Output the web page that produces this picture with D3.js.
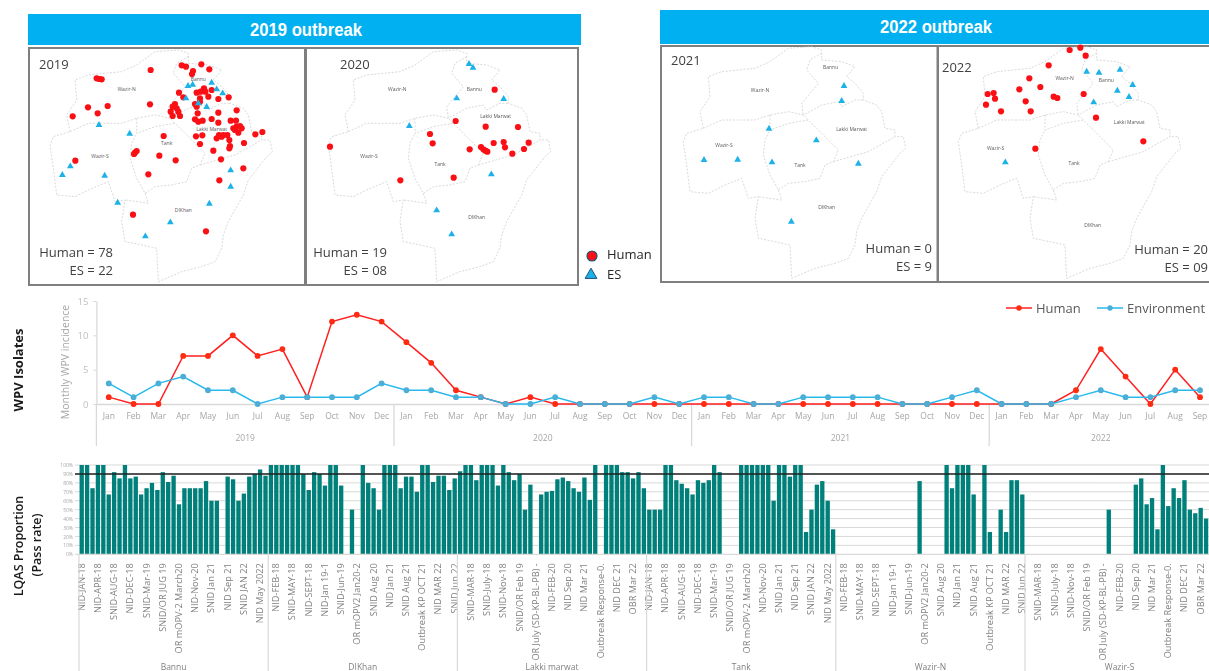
<!DOCTYPE html>
<html>
<head>
<meta charset="utf-8">
<title>WPV outbreak</title>
<script src="https://cdn.jsdelivr.net/npm/d3@7"></script>
<style>
  html, body { margin: 0; padding: 0; background: #fff; }
  /* the source picture is a soft, scaled screenshot */
  svg { display: block; font-family: 'Open Sans', sans-serif; filter: blur(0.45px); }
</style>
</head>
<body>
<svg id="chart" width="1209" height="671"></svg>
<script>
// map points are in map units
const human2019 = [[485,166],[498,170],[544,163],[568,178],[519,183],[516,192],[392,180],[230,205],[238,207],[245,208],[477,248],[490,262],[530,248],[542,245],[552,235],[556,245],[575,240],[565,260],[540,265],[540,275],[595,267],[626,262],[263,288],[204,292],[233,310],[158,319],[390,283],[465,282],[458,290],[470,295],[452,305],[475,305],[458,318],[480,318],[525,282],[530,290],[533,310],[650,301],[595,308],[525,328],[535,335],[548,332],[575,327],[595,338],[632,332],[648,332],[650,350],[660,348],[665,355],[645,360],[655,368],[640,355],[706,373],[727,366],[528,379],[547,376],[431,378],[597,375],[610,375],[622,375],[590,385],[605,380],[628,390],[540,402],[672,399],[630,408],[628,415],[580,422],[345,428],[350,423],[342,432],[418,437],[467,451],[166,452],[603,448],[385,493],[670,475],[598,511],[339,614],[558,664]];
const es2019 = [[237,345],[329,371],[151,469],[127,495],[254,497],[293,578],[451,637],[376,679],[568,581],[632,530],[632,481],[560,291],[498,265],[535,280],[608,250],[590,238],[575,218],[518,224],[504,228]];
const human2020 = [[584,239],[467,333],[557,350],[654,351],[390,372],[398,400],[90,410],[509,418],[543,411],[550,418],[556,422],[562,425],[581,399],[611,396],[615,412],[637,431],[672,417],[686,398],[461,503],[301,511]];
const es2020 = [[507,162],[519,173],[470,265],[611,267],[328,348],[574,493],[410,601],[455,673]];
const human2021 = [];
const es2021 = [[567,243],[560,288],[342,371],[484,406],[147,465],[248,464],[351,472],[610,476],[409,650]];
const human2022 = [[419,135],[451,128],[467,152],[356,181],[298,220],[331,246],[268,253],[173,267],[191,264],[195,281],[168,299],[213,319],[287,289],[302,319],[371,275],[382,279],[461,267],[498,338],[640,409],[316,431]];
const es2022 = [[470,200],[507,203],[570,194],[608,240],[562,257],[597,276],[491,292],[226,472]];

const districtNames = ['Bannu', 'Wazir-N', 'Wazir-S', 'Tank', 'Lakki Marwat', 'DIKhan'];
const districtAt2019 = [[535,208],[320,238],[240,439],[440,400],[575,356],[490,600]];
const districtAt2020 = [[523,238],[292,238],[207,439],[420,463],[587,317],[530,620]];
const districtAt2021 = [[527,186],[315,254],[207,420],[435,479],[590,371],[515,606]];
const districtAt2022 = [[529,225],[404,219],[197,430],[432,473],[598,351],[488,660]];

// district borders, same map units
const borderOuter = [[145,370],[135,320],[165,275],[160,215],[200,200],[300,190],[345,170],[400,130],[470,125],[500,135],[500,165],[560,170],[600,185],[575,215],[600,235],[625,265],[625,285],[665,300],[680,320],[690,370],[720,375],[720,395],[745,395],[752,430],[735,445],[700,490],[680,515],[665,560],[620,640],[605,680],[600,720],[580,760],[540,775],[480,790],[410,820],[405,720],[360,710],[310,700],[300,640],[310,575],[280,580],[260,520],[210,540],[160,565],[105,560],[95,480],[85,410],[95,385],[145,370]];
const borderInner = [
  [[145,370],[200,345],[300,345],[345,330],[400,320],[445,330],[500,300],[550,290],[560,305],[600,285],[625,285]],
  [[500,145],[465,165],[455,195],[490,235],[440,295],[445,330],[460,345]],
  [[345,330],[345,375],[400,355],[460,345],[510,395],[550,435],[535,470],[510,480],[495,520],[450,530],[400,535],[370,555],[345,510],[325,450],[330,405],[345,375]],
  [[535,470],[640,440],[720,395]],
  [[370,555],[380,585],[310,575]]
];

const months = ['Jan','Feb','Mar','Apr','May','Jun','Jul','Aug','Sep','Oct','Nov','Dec','Jan','Feb','Mar','Apr','May','Jun','Jul','Aug','Sep','Oct','Nov','Dec','Jan','Feb','Mar','Apr','May','Jun','Jul','Aug','Sep','Oct','Nov','Dec','Jan','Feb','Mar','Apr','May','Jun','Jul','Aug','Sep'];
const years = ['2019', '2020', '2021', '2022'];
const monthsPerYear = [12, 12, 12, 9];
const humanCases = [1,0,0,7,7,10,7,8,1,12,13,12,9,6,2,1,0,1,0,0,0,0,0,0,0,0,0,0,0,0,0,0,0,0,0,0,0,0,0,2,8,4,0,5,1];
const envCases = [3,1,3,4,2,2,0,1,1,1,1,3,2,2,1,1,0,0,1,0,0,0,1,0,1,1,0,0,1,1,1,1,0,0,1,2,0,0,0,1,2,1,1,2,2];

const rounds = ['NID-JAN-18','NID-FEB-18','SNID-MAR-18','NID-APR-18','SNID-MAY-18','SNID-July-18','SNID-AUG-18','NID-SEPT-18','SNID-Nov-18','NID-DEC-18','NID-Jan 19-1','SNID/OR Feb 19','SNID-Mar-19','SNID-Jun-19','OR July (SD-KP-BL-PB) -','SNID/OR JUG 19','OR mOPV2 Jan20-2','NID-FEB-20','OR mOPV-2 March20','SNID Aug 20','NID Sep 20','NID-Nov-20','NID Jan 21','NID Mar 21','SNID Jan 21','SNID Aug 21','Outbreak Response-0.','NID Sep 21','Outbreak KP OCT 21','NID DEC 21','SNID JAN 22','NID MAR 22','OBR Mar 22','NID May 2022','SNID Jun 22'];
const districts = ['Bannu', 'DIKhan', 'Lakki marwat', 'Tank', 'Wazir-N', 'Wazir-S'];
const passBannu = [100,100,74,100,100,67,92,85,100,85,87,67,74,80,72,92,81,88,56,74,74,74,74,82,60,60,0,87,84,60,68,87,90,95,88];
const passDikhan = [100,100,100,100,100,100,90,72,92,90,77,100,100,77,0,50,0,100,80,74,50,100,100,100,74,87,87,70,100,100,81,88,88,72,85];
const passLakki = [93,100,100,83,100,100,100,77,100,92,83,90,50,78,0,67,70,71,84,86,82,74,70,86,61,100,0,100,100,100,92,92,85,92,74];
const passTank = [50,50,50,100,100,83,79,74,67,83,80,83,100,92,0,0,0,100,100,100,100,100,100,60,100,100,87,100,100,25,50,78,82,60,28];
const passWazirN = [0,0,0,0,0,0,0,0,0,0,0,0,0,0,0,82,0,0,0,0,100,74,100,100,100,67,0,100,25,0,50,25,83,83,67];
const passWazirS = [0,0,0,0,0,0,0,0,0,0,0,0,0,0,0,50,0,0,0,0,78,85,56,63,28,100,54,74,63,83,50,46,52,40,44];
const passByDistrict = [passBannu, passDikhan, passLakki, passTank, passWazirN, passWazirS];
const targetPass = 90;

const svg = d3.select('#chart');
const C_HEAD = '#00b0f0', C_FRAME = '#7f7f7f', C_AXIS = '#d9d9d9', C_TEXT = '#a6a6a6';

// ---- outbreak headers
[
  { label: '2019 outbreak', x: 28, y: 14, w: 553, h: 31, tx: 306 },
  { label: '2022 outbreak', x: 660, y: 10, w: 549, h: 34, tx: 936 }
].forEach(h => {
  svg.append('rect').attr('x', h.x).attr('y', h.y).attr('width', h.w).attr('height', h.h).attr('fill', C_HEAD);
  svg.append('text').attr('x', h.tx).attr('y', h.y + h.h / 2 + 6)
    .attr('text-anchor', 'middle').attr('fill', '#fff')
    .attr('textLength', 112).attr('lengthAdjust', 'spacingAndGlyphs')
    .style('font-family', "'Liberation Sans', sans-serif")
    .style('font-weight', 700).style('font-size', '18px')
    .text(h.label);
});

// ---- map panels
const panels = [
  { year: years[0], human: human2019, es: es2019, names: districtAt2019, fx: 29, fy: 48, fw: 276, fh: 237, bx: 21.7, by: 8.3, px: 20, py: 10, yrX: 39, yrY: 69, cntX: 113, cntY: 257, cnt: ['Human = 78', 'ES = 22'] },
  { year: years[1], human: human2020, es: es2020, names: districtAt2020, fx: 306, fy: 48, fw: 272, fh: 237, bx: 300, by: 8.3, px: 300, py: 10, yrX: 340, yrY: 69, cntX: 387, cntY: 257, cnt: ['Human = 19', 'ES = 08'] },
  { year: years[2], human: human2021, es: es2021, names: districtAt2021, fx: 661, fy: 46, fw: 276.5, fh: 236, bx: 655, by: 5, px: 655, py: 5, yrX: 671, yrY: 65, cntX: 932, cntY: 253, cnt: ['Human = 0', 'ES = 9'] },
  { year: years[3], human: human2022, es: es2022, names: districtAt2022, fx: 938, fy: 46, fw: 290, fh: 236, bx: 930, by: 5, px: 930, py: 5, yrX: 942, yrY: 72, cntX: 1208, cntY: 254, cnt: ['Human = 20', 'ES = 09'] }
];

const triangle = d3.symbol().type(d3.symbolTriangle);

panels.forEach(p => {
  const g = svg.append('g');
  g.append('rect').attr('x', p.fx).attr('y', p.fy).attr('width', p.fw).attr('height', p.fh)
    .attr('fill', '#fff').attr('stroke', C_FRAME).attr('stroke-width', 2);

  const bX = d3.scaleLinear().domain([0, 900]).range([p.bx, p.bx + 300]);
  const bY = d3.scaleLinear().domain([0, 900]).range([p.by, p.by + 300]);
  const pX = d3.scaleLinear().domain([0, 900]).range([p.px, p.px + 300]);
  const pY = d3.scaleLinear().domain([0, 900]).range([p.py, p.py + 300]);
  const border = d3.line().x(d => bX(d[0])).y(d => bY(d[1]));

  g.selectAll('path.border').data([borderOuter].concat(borderInner)).enter().append('path')
    .attr('class', 'border').attr('d', border).attr('fill', 'none')
    .attr('stroke', '#cfcfcf').attr('stroke-width', 0.8).attr('stroke-dasharray', '2,1.5');

  g.selectAll('text.district').data(p.names).enter().append('text')
    .attr('class', 'district')
    .attr('x', d => pX(d[0])).attr('y', d => pY(d[1]) + 2)
    .attr('text-anchor', 'middle').attr('fill', '#5a5a5a')
    .style('font-size', '5px')
    .text((d, i) => districtNames[i]);

  g.selectAll('circle').data(p.human).enter().append('circle')
    .attr('cx', d => pX(d[0])).attr('cy', d => pY(d[1])).attr('r', 3.1).attr('fill', '#fa0f14');

  g.selectAll('path.es').data(p.es).enter().append('path')
    .attr('class', 'es').attr('d', triangle.size(20))
    .attr('transform', d => `translate(${pX(d[0])},${pY(d[1])})`)
    .attr('fill', '#1cb2e8');

  g.append('text').attr('x', p.yrX).attr('y', p.yrY).attr('fill', '#404040')
    .style('font-size', '13px').text(p.year);
  p.cnt.forEach((t, i) => {
    g.append('text').attr('x', p.cntX).attr('y', p.cntY + i * 18)
      .attr('text-anchor', 'end').attr('fill', '#404040')
      .style('font-size', '13px').text(t);
  });
});

// map legend, text is cut off in the original
svg.append('clipPath').attr('id', 'legendClip').append('rect')
  .attr('x', 600).attr('y', 240).attr('width', 53).attr('height', 50);
const mapLegend = svg.append('g');
mapLegend.append('circle').attr('cx', 592).attr('cy', 256).attr('r', 5)
  .attr('fill', '#fa0f14').attr('stroke', '#1f4e79').attr('stroke-width', 1.2);
mapLegend.append('path').attr('d', triangle.size(60))
  .attr('transform', 'translate(591,275)').attr('fill', '#1cb2e8').attr('stroke', '#1f4e79');
mapLegend.selectAll('text').data(['Human', 'ES']).enter().append('text')
  .attr('clip-path', 'url(#legendClip)')
  .attr('x', 607).attr('y', (d, i) => 259 + i * 20)
  .attr('fill', '#262626').style('font-size', '13px').text(d => d);

// ---- WPV isolates line chart
const lineX = d3.scaleBand().domain(d3.range(months.length)).range([96.4, 96.4 + 24.8 * 45]);
const lineY = d3.scaleLinear().domain([0, 15]).range([404, 301]);
const cx = i => lineX(i) + lineX.bandwidth() / 2;

const lineG = svg.append('g');
const xAxisLine = lineG.append('g').attr('transform', 'translate(0,404)')
  .call(d3.axisBottom(lineX).tickSize(0).tickPadding(9).tickFormat(i => months[i]));
xAxisLine.select('.domain').attr('stroke', C_AXIS).attr('stroke-width', 1.3);
xAxisLine.selectAll('text').attr('fill', C_TEXT).style('font-size', '8.5px').style('font-family', "'Open Sans', sans-serif");

const yAxisLine = lineG.append('g').attr('transform', 'translate(96.4,0)')
  .call(d3.axisLeft(lineY).tickValues([0, 5, 10, 15]).tickSize(3).tickSizeOuter(0).tickPadding(5));
yAxisLine.select('.domain').attr('stroke', C_AXIS).attr('stroke-width', 1.3);
yAxisLine.selectAll('line').attr('stroke', C_AXIS);
yAxisLine.selectAll('text').attr('fill', '#bfbfbf').style('font-size', '9.5px').style('font-family', "'Open Sans', sans-serif");

// year bands under the months
let monthStart = 0;
years.forEach((yr, i) => {
  const monthEnd = monthStart + monthsPerYear[i];
  const x0 = lineX(monthStart);
  const x1 = lineX(monthStart) + monthsPerYear[i] * lineX.step();
  lineG.append('line').attr('x1', x0).attr('x2', x0).attr('y1', 404).attr('y2', 446)
    .attr('stroke', C_AXIS).attr('stroke-width', 1.3);
  lineG.append('text').attr('x', (x0 + x1) / 2).attr('y', 441).attr('text-anchor', 'middle')
    .attr('fill', C_TEXT).style('font-size', '8.5px').text(yr);
  monthStart = monthEnd;
});

const caseLine = d3.line().x((d, i) => cx(i)).y(d => lineY(d));
[
  { values: humanCases, line: '#ff2020', dot: '#ff2a12' },
  { values: envCases, line: '#29b9ee', dot: '#4aaed6' }
].forEach(s => {
  lineG.append('path').datum(s.values).attr('d', caseLine).attr('fill', 'none')
    .attr('stroke', s.line).attr('stroke-width', 1.5);
  lineG.append('g').selectAll('circle').data(s.values).enter().append('circle')
    .attr('cx', (d, i) => cx(i)).attr('cy', d => lineY(d)).attr('r', 2.9).attr('fill', s.dot);
});

// line chart legend
[
  { label: 'Human', x: 1006, line: '#ff2020', dot: '#ff2a12' },
  { label: 'Environment', x: 1097, line: '#29b9ee', dot: '#4aaed6' }
].forEach(l => {
  lineG.append('line').attr('x1', l.x).attr('x2', l.x + 26).attr('y1', 308).attr('y2', 308)
    .attr('stroke', l.line).attr('stroke-width', 1.5);
  lineG.append('circle').attr('cx', l.x + 13).attr('cy', 308).attr('r', 2.7).attr('fill', l.dot);
  lineG.append('text').attr('x', l.x + 30).attr('y', 313).attr('fill', '#595959')
    .style('font-size', '13px').text(l.label);
});

lineG.append('text').attr('transform', 'translate(69,362) rotate(-90)').attr('text-anchor', 'middle')
  .attr('fill', C_TEXT).style('font-size', '10.5px').text('Monthly WPV incidence');
lineG.append('text').attr('transform', 'translate(23,370) rotate(-90)').attr('text-anchor', 'middle')
  .attr('fill', '#1a1a1a').style('font-size', '13px').style('font-weight', 700).text('WPV Isolates');

// ---- LQAS bars
const groupX = d3.scaleBand().domain(districts).range([79, 79 + 189.2 * 6]);
const roundX = d3.scaleBand().domain(rounds).range([0, groupX.bandwidth()]).paddingInner(0.2).paddingOuter(0.1);
const passY = d3.scaleLinear().domain([0, 100]).range([554.3, 465]);

const barG = svg.append('g');
const yAxisBar = barG.append('g').attr('transform', 'translate(75,0)')
  .call(d3.axisLeft(passY).tickValues(d3.range(0, 101, 10)).tickSize(0).tickPadding(2).tickFormat(d => d + '%'));
yAxisBar.select('.domain').remove();
yAxisBar.selectAll('text').attr('fill', C_TEXT).style('font-size', '5px').style('font-family', "'Open Sans', sans-serif");

barG.append('g').selectAll('line').data(d3.range(10, 101, 10)).enter().append('line')
  .attr('x1', 75).attr('x2', 1209).attr('y1', d => passY(d)).attr('y2', d => passY(d))
  .attr('stroke', C_AXIS).attr('stroke-width', 1);

districts.forEach((name, gi) => {
  const g = barG.append('g').attr('transform', `translate(${groupX(name)},0)`);
  g.selectAll('rect').data(passByDistrict[gi]).enter().append('rect')
    .attr('x', (d, i) => roundX(rounds[i]))
    .attr('y', d => passY(d))
    .attr('width', roundX.bandwidth())
    .attr('height', d => passY(0) - passY(d))
    .attr('fill', d => d > 0 ? '#00807a' : 'none');

  // only every third round gets a label, counted across all the districts
  const shown = rounds.filter((r, i) => i % 3 === gi % 3);
  const axis = g.append('g').attr('transform', 'translate(0,554.3)')
    .call(d3.axisBottom(roundX).tickValues(shown).tickSize(0).tickPadding(0));
  axis.select('.domain').remove();
  axis.selectAll('text')
    .attr('transform', 'rotate(-90)').attr('text-anchor', 'end').attr('dy', '0.32em')
    .attr('x', -9).attr('y', 0)
    .attr('fill', '#808080').style('font-size', '9.2px').style('font-family', "'Open Sans', sans-serif");

  g.append('line').attr('x1', 0).attr('x2', 0).attr('y1', 554.3).attr('y2', 671)
    .attr('stroke', C_AXIS).attr('stroke-width', 1.2);
  g.append('text').attr('x', groupX.bandwidth() / 2).attr('y', 670).attr('text-anchor', 'middle')
    .attr('fill', '#808080').style('font-size', '8.5px').text(name);
});

barG.append('line').attr('x1', 75).attr('x2', 1209).attr('y1', passY(0)).attr('y2', passY(0))
  .attr('stroke', C_AXIS).attr('stroke-width', 1.2);
barG.append('line').attr('x1', 75).attr('x2', 1209).attr('y1', passY(targetPass)).attr('y2', passY(targetPass))
  .attr('stroke', '#222').attr('stroke-width', 1.4);

barG.append('text').attr('transform', 'translate(23,546) rotate(-90)').attr('text-anchor', 'middle')
  .attr('fill', '#1a1a1a').style('font-size', '12.5px').style('font-weight', 600).text('LQAS Proportion');
barG.append('text').attr('transform', 'translate(41,545) rotate(-90)').attr('text-anchor', 'middle')
  .attr('fill', '#1a1a1a').style('font-size', '12.5px').style('font-weight', 600).text('(Pass rate)');
</script>
</body>
</html>
